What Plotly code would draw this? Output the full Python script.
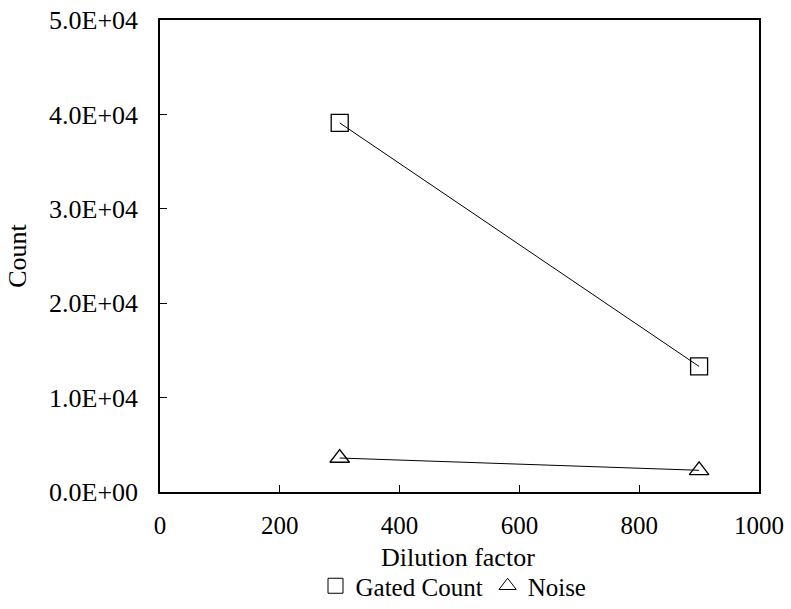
import plotly.graph_objects as go

dilution = [300, 900]
gated_count = [39100, 13300]
noise = [3600, 2300]
x_ticks = [0, 200, 400, 600, 800, 1000]
y_ticks = [0, 10000, 20000, 30000, 40000, 50000]
y_tick_text = ["0.0E+00", "1.0E+04", "2.0E+04", "3.0E+04", "4.0E+04", "5.0E+04"]
x_title = "Dilution factor"
y_title = "Count"

FONT = "Liberation Serif"
XFS = 25
YFS = 26
TFS = 26
LFS = 25

fig = go.Figure()
fig.add_trace(go.Scatter(x=dilution, y=gated_count, mode="lines+markers",
                         line=dict(color="black", width=1),
                         marker=dict(symbol="square-open", size=17, color="black", line=dict(width=1.3)),
                         showlegend=False))
fig.add_trace(go.Scatter(x=dilution, y=noise, mode="lines+markers",
                         line=dict(color="black", width=1),
                         marker=dict(symbol="triangle-up-open", size=17, color="black", line=dict(width=1.3)),
                         showlegend=False))
fig.add_trace(go.Scatter(x=[None], y=[None], mode="markers", name="Gated Count",
                         marker=dict(symbol="square-open", size=15, color="black", line=dict(width=1))))
fig.add_trace(go.Scatter(x=[None], y=[None], mode="markers", name="Noise",
                         marker=dict(symbol="triangle-up-open", size=15, color="black", line=dict(width=1))))

fig.update_layout(
    width=791, height=609,
    margin=dict(l=160, r=32, t=20, b=117),
    paper_bgcolor="white", plot_bgcolor="white",
    font=dict(family=FONT, size=XFS, color="black"),
    showlegend=True,
    legend=dict(orientation="h", x=0.49, xanchor="center", xref="paper",
                y=0.0, yanchor="bottom", yref="container",
                font=dict(family=FONT, size=LFS), itemwidth=30, tracegroupgap=0,
                bgcolor="rgba(0,0,0,0)"),
    xaxis=dict(range=[0, 1000], tickvals=x_ticks, showgrid=False, zeroline=False,
               showline=True, linecolor="black", linewidth=1.5, mirror=True,
               ticks="inside", ticklen=7, tickcolor="black", ticklabelstandoff=10,
               tickfont=dict(family=FONT, size=XFS), automargin=False),
    yaxis=dict(range=[0, 50000], tickvals=y_ticks, ticktext=y_tick_text,
               showgrid=False, zeroline=False,
               showline=True, linecolor="black", linewidth=1.5, mirror=True,
               ticks="inside", ticklen=7, tickcolor="black", ticklabelstandoff=15,
               tickfont=dict(family=FONT, size=YFS), automargin=False,
               title=dict(text=y_title, font=dict(family=FONT, size=TFS))),
    annotations=[dict(text=x_title, xref="paper", yref="paper", x=0.497, y=-0.138,
                      xanchor="center", yanchor="middle", showarrow=False,
                      font=dict(family=FONT, size=TFS, color="black"))],
)

fig.write_html("out.html")
